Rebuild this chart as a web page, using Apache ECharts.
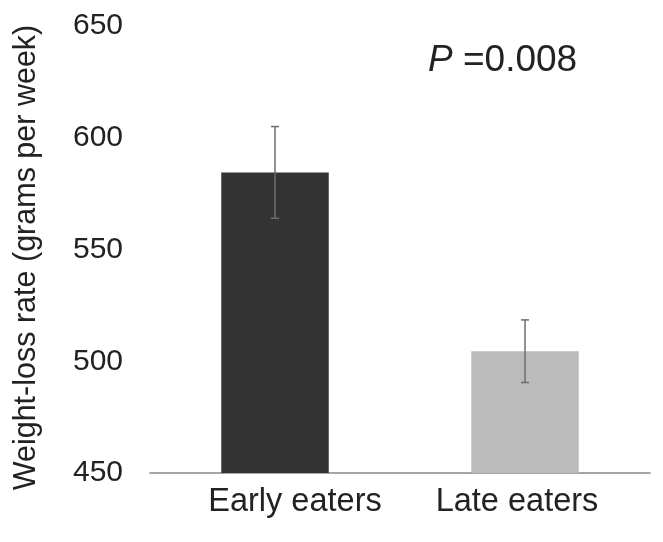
<!DOCTYPE html>
<html>
<head>
<meta charset="utf-8">
<script src="https://cdn.jsdelivr.net/npm/echarts@6/dist/echarts.min.js"></script>
<style>
  html, body { margin: 0; padding: 0; background: #fff; }
  #chart { width: 663px; height: 542px; }
</style>
</head>
<body>
<div id="chart"></div>
<script>
// data
var categories = ["Early eaters", "Late eaters"];
var means = [584.5, 504.5];
var errors = [20.5, 14];
var barColors = ["#333333", "#bbbbbb"];
var yTicks = [450, 500, 550, 600, 650];

var chart = echarts.init(document.getElementById("chart"));
var font = "Liberation Sans, Arial, sans-serif";

chart.setOption({
  animation: false,
  textStyle: { fontFamily: font },
  title: {
    text: "{i|P} =0.008",
    left: 423,
    top: 37,
    textStyle: {
      rich: {
        i: { fontStyle: "italic", fontSize: 37, color: "#222", fontFamily: font }
      },
      fontSize: 37,
      fontWeight: "normal",
      color: "#222",
      fontFamily: font
    }
  },
  grid: { left: 150, right: 13, top: 26, bottom: 69, outerBoundsMode: "none" },
  xAxis: {
    type: "category",
    data: categories,
    axisTick: { show: false },
    axisLine: { lineStyle: { color: "#888", width: 1.5 } },
    axisLabel: {
      interval: 0,
      hideOverlap: false,
      color: "#222",
      fontSize: 32.5,
      margin: 13,
      fontFamily: font,
      // labels in the source sit a little off the bar centres
      formatter: function (val, idx) {
        return "{c" + idx + "|" + val + "}";
      },
      rich: {
        c0: { fontSize: 32.5, color: "#222", fontFamily: font, padding: [0, 0, 0, 40] },
        c1: { fontSize: 32.5, color: "#222", fontFamily: font, padding: [0, 16, 0, 0] }
      }
    }
  },
  yAxis: {
    type: "value",
    min: yTicks[0],
    max: yTicks[yTicks.length - 1],
    interval: 50,
    splitLine: { show: false },
    axisLine: { show: false },
    axisTick: { show: false },
    axisLabel: { color: "#222", fontSize: 30, margin: 27, fontFamily: font },
    name: "Weight-loss rate (grams per week)",
    nameLocation: "middle",
    nameRotate: 90,
    nameGap: 108,
    nameTextStyle: { color: "#222", fontSize: 30.5, fontFamily: font, padding: [0, 16, 0, 0] }
  },
  series: [
    {
      type: "bar",
      barWidth: "43%",
      data: means.map(function (v, i) {
        return { value: v, itemStyle: { color: barColors[i] } };
      }),
      z: 2
    },
    {
      type: "custom",
      z: 3,
      data: means.map(function (m, i) {
        return [i, m - errors[i], m + errors[i]];
      }),
      renderItem: function (params, api) {
        var lo = api.coord([api.value(0), api.value(1)]);
        var hi = api.coord([api.value(0), api.value(2)]);
        var x = lo[0];
        var cap = 4;
        var style = { stroke: "#6e6e6e", lineWidth: 1.5 };
        return {
          type: "group",
          children: [
            { type: "line", shape: { x1: x, y1: hi[1], x2: x, y2: lo[1] }, style: style },
            { type: "line", shape: { x1: x - cap, y1: hi[1], x2: x + cap, y2: hi[1] }, style: style },
            { type: "line", shape: { x1: x - cap, y1: lo[1], x2: x + cap, y2: lo[1] }, style: style }
          ]
        };
      }
    }
  ]
});
</script>
</body>
</html>
